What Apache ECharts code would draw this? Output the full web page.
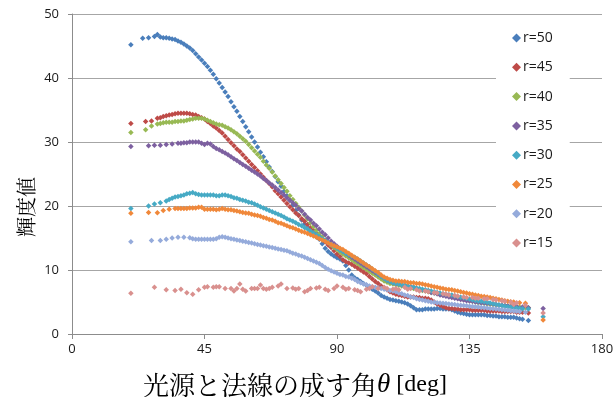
<!DOCTYPE html>
<html><head><meta charset="utf-8">
<script src="https://cdn.jsdelivr.net/npm/echarts@6/dist/echarts.min.js"></script>
<style>html,body{margin:0;padding:0;background:#fff}#c{width:613px;height:397px}</style>
</head><body><div id="c"></div>
<script>
const angles = [
 20,21,22,23,24,25,26,27,28,29, 30,31,32,33,34,35,36,37,38,39,
 40,41,42,43,44,45,46,47,48,49, 50,51,52,53,54,55,56,57,58,59,
 60,61,62,63,64,65,66,67,68,69, 70,71,72,73,74,75,76,77,78,79,
 80,81,82,83,84,85,86,87,88,89, 90,91,92,93,94,95,96,97,98,99,
 100,101,102,103,104,105,106,107,108,109, 110,111,112,113,114,115,116,117,118,119,
 120,121,122,123,124,125,126,127,128,129, 130,131,132,133,134,135,136,137,138,139,
 140,141,142,143,144,145,146,147,148,149, 150,151,152,153,154,155,156,157,158,159,
 160];
const names = ['r=50','r=45','r=40','r=35','r=30','r=25','r=20','r=15'];
const r50 = [
 45.2,null,null,null,46.2,null,46.3,null,46.5,46.8,
 46.4,46.3,46.3,46.2,46.1,46.0,45.8,45.6,45.3,45.0,
 44.7,44.3,43.8,43.3,42.8,42.3,41.8,41.2,40.6,39.9,
 39.2,38.5,37.8,37.1,36.3,35.5,34.8,34.0,33.2,32.4,
 31.6,30.8,30.0,29.2,28.4,27.7,26.9,26.1,25.4,24.6,
 23.8,23.1,22.3,21.6,20.9,20.1,19.3,18.6,17.8,17.2,
 16.6,16.1,15.6,15.2,14.8,14.1,13.4,12.9,12.5,12.2,
 11.9,11.7,11.4,10.7,10.0,9.2,8.8,8.5,8.2,7.9,
 7.6,7.3,7.0,6.7,6.4,6.0,5.8,5.6,5.4,5.3,
 5.2,5.1,5.0,4.9,4.7,4.4,4.1,3.8,3.8,3.8,
 3.9,3.9,3.9,3.9,4.0,4.0,3.9,3.9,3.9,3.8,
 3.6,3.4,3.3,3.2,3.1,3.0,3.0,3.0,3.0,3.0,
 3.0,2.9,2.9,2.8,2.8,2.7,2.7,2.7,2.6,2.6,
 2.6,2.5,2.4,2.3,null,2.1,null,null,null,null,
 null];
const r45 = [
 32.9,null,null,null,null,33.2,null,33.3,null,33.7,
 33.8,34.0,34.1,34.2,34.3,34.4,34.5,34.5,34.5,34.5,
 34.4,34.3,34.2,34.0,33.8,33.6,33.2,32.9,32.5,32.2,
 31.8,31.4,30.9,30.4,29.9,29.4,28.9,28.5,28.0,27.5,
 27.0,26.5,26.0,25.5,25.0,24.5,24.0,23.5,23.0,22.4,
 21.9,21.4,20.9,20.4,19.9,19.4,18.9,18.5,18.0,17.6,
 17.1,16.6,16.2,15.7,15.3,14.8,14.4,13.9,13.5,13.0,
 12.5,12.1,11.6,11.3,11.1,10.9,10.6,10.3,10.0,9.7,
 9.4,9.0,8.6,8.2,7.9,7.5,7.2,6.9,6.6,6.4,
 6.2,6.1,6.0,5.9,5.8,5.8,5.8,5.7,5.7,5.6,
 5.6,5.5,5.3,5.0,4.7,4.5,4.3,4.1,4.0,4.0,
 3.9,3.9,3.8,3.8,3.8,3.8,3.7,3.7,3.7,3.7,
 3.7,3.6,3.6,3.6,3.6,3.6,3.5,3.5,3.5,3.5,
 3.5,3.4,3.4,3.4,null,3.3,null,null,null,null,
 null];
const r40 = [
 31.5,null,null,null,null,31.9,null,32.5,null,32.8,
 32.9,33.0,33.1,33.1,33.1,33.2,33.2,33.3,33.3,33.4,
 33.5,33.6,33.7,33.7,33.7,33.6,33.4,33.2,33.0,32.8,
 32.7,32.6,32.4,32.2,31.9,31.6,31.3,30.9,30.5,30.1,
 29.6,29.1,28.6,28.1,27.6,27.0,26.4,25.9,25.3,24.7,
 24.1,23.5,22.9,22.3,21.6,21.0,20.4,19.8,19.2,18.6,
 18.0,17.4,16.8,16.2,15.7,15.2,14.7,14.3,13.9,13.5,
 13.2,12.8,12.5,12.2,11.9,11.6,11.3,11.0,10.7,10.4,
 10.1,9.8,9.5,9.2,8.9,8.6,8.3,8.1,7.9,7.8,
 7.7,7.6,7.5,7.4,7.3,7.2,7.1,7.0,6.9,6.8,
 6.7,6.6,6.5,6.4,6.3,6.2,6.1,6.0,5.9,5.8,
 5.7,5.6,5.5,5.4,5.3,5.2,5.1,5.0,4.9,4.85,
 4.8,4.7,4.65,4.6,4.55,4.5,4.45,4.4,4.35,4.3,
 4.3,4.2,4.2,null,4.1,4.1,null,null,null,null,
 null];
const r35 = [
 29.3,null,null,null,null,null,29.4,null,29.5,null,
 29.5,null,29.6,null,29.7,null,29.8,29.8,29.9,29.9,
 30.0,30.0,30.0,30.0,29.8,29.6,29.8,29.7,29.3,29.0,
 28.8,28.5,28.3,28.0,27.7,27.4,27.1,26.8,26.5,26.2,
 25.9,25.6,25.3,25.0,24.7,24.3,24.0,23.6,23.3,22.9,
 22.5,22.1,21.7,21.3,20.9,20.5,20.1,19.6,19.2,18.7,
 18.2,17.8,17.3,16.9,16.4,15.9,15.5,15.0,14.5,14.1,
 13.7,13.3,12.9,12.6,12.3,12.0,11.7,11.4,11.1,10.8,
 10.5,10.2,9.9,9.6,9.3,9.0,8.7,8.4,8.2,8.0,
 7.9,7.8,7.7,7.6,7.5,7.4,7.3,7.1,7.0,6.9,
 6.8,6.7,6.5,6.4,6.3,6.1,6.0,5.9,5.8,5.7,
 5.6,5.5,5.4,5.3,5.2,5.15,5.1,5.0,4.95,4.9,
 4.85,4.8,4.75,4.7,4.6,4.55,4.5,4.45,4.4,4.35,
 4.3,4.3,null,4.2,null,4.1,null,null,null,null,
 4.0];
const r30 = [
 19.6,null,null,null,null,null,20.0,null,20.3,null,
 20.5,null,20.8,21.0,21.2,21.4,21.5,21.6,21.7,21.9,
 22.0,22.1,21.9,21.8,21.7,21.7,21.7,21.7,21.7,21.6,
 21.6,21.7,21.7,21.6,21.5,21.3,21.2,21.0,20.9,20.8,
 20.6,20.5,20.3,20.1,19.9,19.7,19.5,19.3,19.1,18.9,
 18.7,18.5,18.3,18.0,17.8,17.6,17.4,17.1,16.9,16.6,
 16.4,16.1,15.8,15.5,15.2,14.9,14.6,14.3,14.0,13.7,
 13.4,13.1,12.9,12.6,12.4,12.2,12.0,11.7,11.4,11.1,
 10.8,10.5,10.1,9.8,9.4,9.0,8.7,8.4,8.2,8.0,
 7.9,7.8,7.7,7.6,7.5,7.4,7.3,7.2,7.1,7.0,
 6.9,6.8,6.7,6.6,6.5,6.4,6.3,6.2,6.15,6.1,
 5.95,5.85,5.75,5.65,5.55,5.45,5.35,5.25,5.15,5.1,
 5.05,4.95,4.85,4.75,4.65,4.55,4.45,4.35,4.25,4.2,
 4.1,4.05,4.0,3.95,null,3.9,null,null,null,null,
 2.7];
const r25 = [
 18.85,null,null,null,null,null,19.0,null,null,18.95,
 null,19.3,null,19.5,null,19.6,19.6,19.6,19.6,19.6,
 19.7,19.7,19.7,19.8,19.8,19.5,19.5,19.5,19.5,19.4,
 19.5,19.6,19.5,19.4,19.4,19.3,19.2,19.1,19.0,18.9,
 18.85,18.7,18.6,18.5,18.4,18.2,18.1,17.9,17.8,17.6,
 17.4,17.3,17.1,16.9,16.7,16.6,16.4,16.2,16.0,15.9,
 15.7,15.5,15.3,15.1,14.9,14.7,14.5,14.2,14.0,13.8,
 13.6,13.4,13.2,12.9,12.6,12.3,12.0,11.7,11.4,11.1,
 10.8,10.5,10.2,9.9,9.6,9.2,8.9,8.7,8.5,8.4,
 8.3,8.3,8.2,8.2,8.1,8.0,8.0,7.9,7.9,7.8,
 7.7,7.6,7.5,7.4,7.3,7.2,7.1,7.0,6.95,6.9,
 6.8,6.7,6.6,6.5,6.4,6.3,6.2,6.1,6.0,5.9,
 5.85,5.8,5.7,5.6,5.5,5.4,5.3,5.2,5.1,5.05,
 5.0,null,4.9,null,4.8,null,null,null,null,null,
 2.2];
const r20 = [
 14.4,null,null,null,null,null,null,14.6,null,null,
 14.6,null,14.8,null,15.0,null,15.1,null,15.1,null,
 15.05,14.9,14.8,14.8,14.8,14.8,14.8,14.8,14.8,14.9,
 15.1,15.2,15.1,15.0,14.9,14.8,14.7,14.6,14.5,14.4,
 14.3,14.2,14.1,14.0,13.9,13.8,13.7,13.6,13.5,13.4,
 13.3,13.2,13.1,13.0,12.8,12.6,12.5,12.3,12.2,12.0,
 11.8,11.6,11.4,11.2,11.0,10.7,10.4,10.1,9.9,9.7,
 9.5,9.3,9.2,9.0,8.9,8.7,8.5,8.2,8.0,7.8,
 7.7,7.5,7.4,7.3,7.2,7.1,7.0,6.9,6.8,6.7,
 6.6,6.4,6.3,6.1,6.0,5.8,5.7,5.5,5.4,5.3,
 5.2,5.1,5.0,4.95,4.9,4.85,4.8,4.75,4.7,4.65,
 4.6,4.55,4.5,4.45,4.4,4.35,4.3,4.25,4.2,4.15,
 4.1,4.05,4.0,3.95,3.9,3.85,3.8,3.75,3.7,3.65,
 3.6,3.55,3.5,null,3.4,null,null,null,null,null,
 null];
const r15 = [
 6.35,null,null,null,null,null,null,null,7.3,null,
 null,null,6.9,null,null,6.8,null,7.0,null,6.45,
 null,6.2,null,6.9,null,7.3,7.4,null,7.3,7.4,
 7.4,null,7.1,null,7.1,6.7,7.1,7.8,7.0,6.7,
 null,7.1,7.1,7.1,7.65,7.1,7.0,7.1,7.3,null,
 7.5,7.8,null,7.1,null,7.2,7.0,7.1,null,6.6,
 6.8,7.1,null,7.2,7.3,null,7.0,6.8,null,7.1,
 7.5,null,7.3,7.0,7.1,null,6.9,6.8,6.6,null,
 7.0,7.1,7.4,null,7.1,null,7.3,7.1,null,7.0,
 7.1,6.9,null,7.3,7.0,7.1,null,6.9,6.7,null,
 6.7,6.6,null,6.5,6.4,null,6.3,6.2,6.1,null,
 6.0,5.9,null,5.8,5.7,null,5.7,5.6,5.6,null,
 5.5,5.5,null,5.4,5.3,null,5.2,5.1,null,5.0,
 4.6,4.9,null,null,4.5,null,null,null,null,null,
 3.3];
const xTicks = [0, 45, 90, 135, 180];
const yTicks = [0, 10, 20, 30, 40, 50];
const values = [r50, r45, r40, r35, r30, r25, r20, r15];
const colors = ['#4A7EBB','#BE4B48','#98B954','#7D60A0','#46AAC5','#F0883A','#95ABDB','#D9908E'];

const chart = echarts.init(document.getElementById('c'), null, {renderer: 'canvas'});
const series = names.map((n, k) => ({
  name: n,
  type: 'scatter',
  symbol: 'diamond',
  symbolSize: 5.5,
  itemStyle: {color: colors[k], opacity: 1},
  data: angles.map((a, i) => values[k][i] == null ? null : [a, values[k][i]]).filter(d => d)
}));
chart.setOption({
  animation: false,
  backgroundColor: '#fff',
  grid: {left: 72, right: 11, top: 14, bottom: 63, containLabel: false, outerBoundsMode: 'none'},
  legend: {
    data: names, orient: 'vertical', left: 496, top: 25,
    backgroundColor: '#fff', padding: [5, 17, 5, 16],
    icon: 'diamond', itemWidth: 9, itemHeight: 9, itemGap: 13.3,
    textStyle: {fontFamily: 'Open Sans', fontSize: 14, color: '#1a1a1a', lineHeight: 16, padding: [0,0,0,-3]}
  },
  graphic: [
    {type: 'text', x: 295, y: 385, style: {
      text: '{j|光源と法線の成す角}{t|θ}{d| [deg]}', align: 'center', verticalAlign: 'middle',
      rich: {
        j: {fontFamily: 'Noto Serif CJK JP, Noto Sans CJK JP', fontSize: 26, fill: '#000'},
        t: {fontFamily: 'Liberation Serif', fontStyle: 'italic', fontSize: 27, fill: '#000'},
        d: {fontFamily: 'Liberation Serif', fontSize: 24, fill: '#000'}
      }
    }},
    {type: 'text', x: 26, y: 207, rotation: Math.PI / 2, style: {
      text: '輝度値', align: 'center', verticalAlign: 'middle',
      fontFamily: 'Noto Serif CJK JP, Noto Sans CJK JP', fontSize: 20, fill: '#000'
    }}
  ],
  xAxis: {
    type: 'value', min: xTicks[0], max: xTicks[xTicks.length - 1], interval: 45,
    axisLine: {show: true, lineStyle: {color: '#8c8c8c', width: 1}},
    axisTick: {show: true, length: 5, lineStyle: {color: '#8c8c8c'}},
    splitLine: {show: false},
    axisLabel: {fontFamily: 'Open Sans', fontSize: 13, color: '#1a1a1a', margin: 9}
  },
  yAxis: {
    type: 'value', min: yTicks[0], max: yTicks[yTicks.length - 1], interval: 10,
    axisLine: {show: true, lineStyle: {color: '#8c8c8c', width: 1}},
    axisTick: {show: true, length: 4, lineStyle: {color: '#8c8c8c'}},
    splitLine: {show: true, lineStyle: {color: '#a6a6a6', width: 1}},
    axisLabel: {fontFamily: 'Open Sans', fontSize: 13, color: '#1a1a1a', margin: 13}
  },
  series: series
});
</script></body></html>
